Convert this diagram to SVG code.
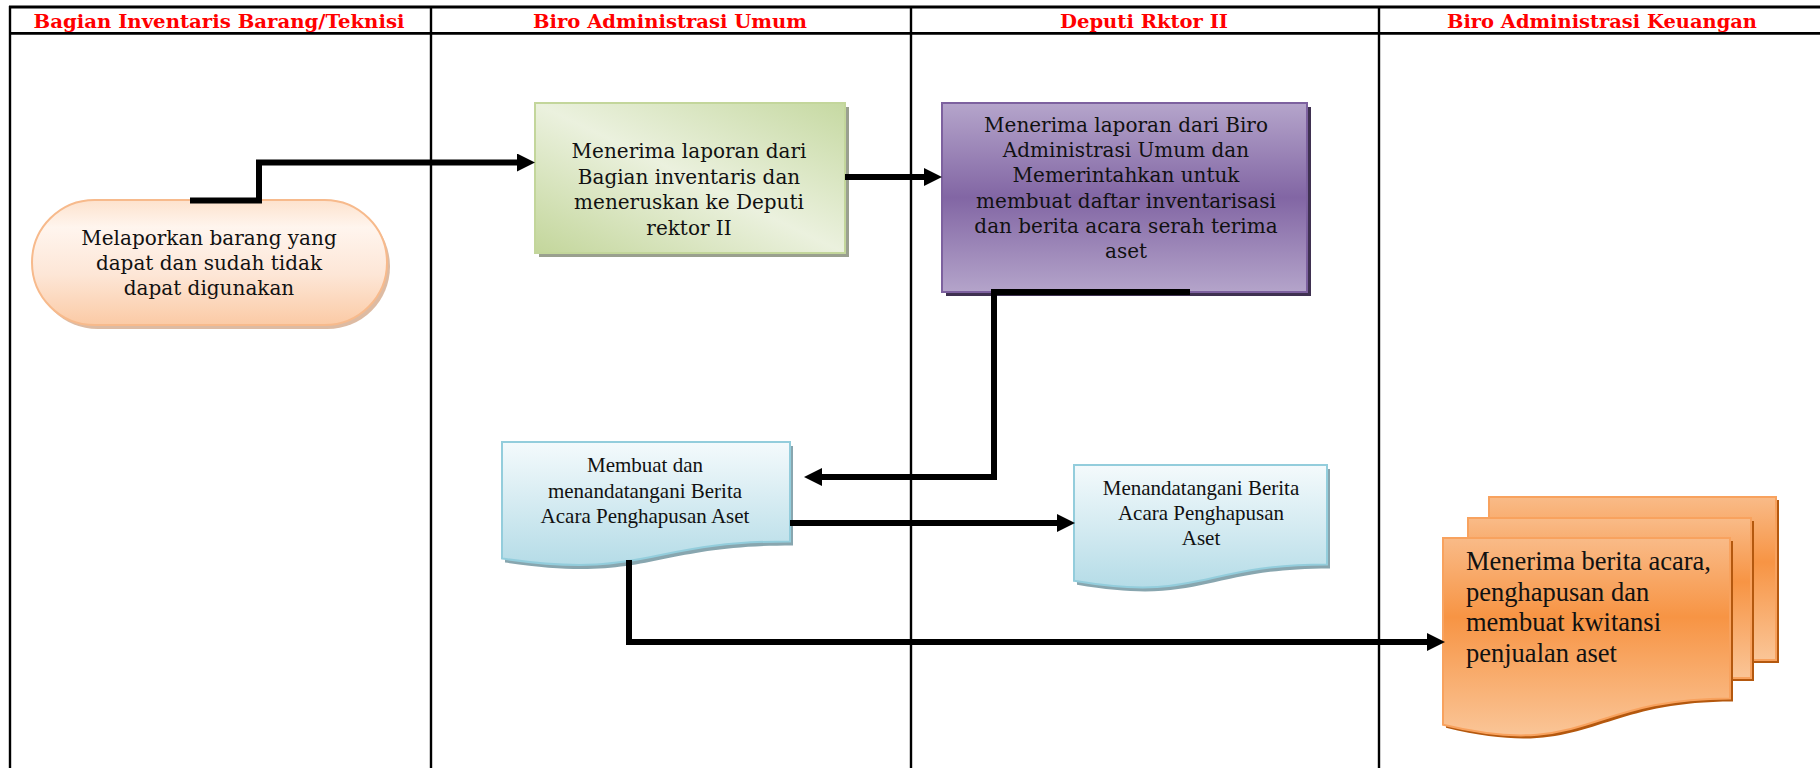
<svg xmlns="http://www.w3.org/2000/svg" width="1820" height="768" viewBox="0 0 1820 768">
  <style>
    .lane { stroke: #000; stroke-width: 2.4; fill: none; }
    .hline { stroke: #000; stroke-width: 2.8; fill: none; }
    .head { font-family: "DejaVu Serif", "Liberation Serif", serif; font-weight: bold; font-size: 19px; fill: #ff0000; text-anchor: middle; }
    .bk { font-family: "DejaVu Serif", "Liberation Serif", serif; font-size: 20px; fill: #111; text-anchor: middle; }
    .tm { font-family: "Liberation Serif", "Times New Roman", serif; font-size: 21px; fill: #111; text-anchor: middle; }
    .tm-big { font-family: "Liberation Serif", "Times New Roman", serif; font-size: 26.5px; fill: #111; }
    .conn { stroke: #000; stroke-width: 6; fill: none; stroke-linejoin: miter; stroke-linecap: butt; marker-end: url(#arrow); }
  </style>
  <defs>
    <linearGradient id="gPill" x1="0" y1="0" x2="0" y2="1">
      <stop offset="0" stop-color="#fde2cd"/>
      <stop offset="0.22" stop-color="#fff5ee"/>
      <stop offset="0.6" stop-color="#fde6d6"/>
      <stop offset="1" stop-color="#fbcaa5"/>
    </linearGradient>
    <linearGradient id="gGreen" x1="1" y1="0" x2="0" y2="1">
      <stop offset="0" stop-color="#c6d9a2"/>
      <stop offset="0.5" stop-color="#ebf1de"/>
      <stop offset="1" stop-color="#c3d69b"/>
    </linearGradient>
    <linearGradient id="gPurple" x1="0" y1="0" x2="0" y2="1">
      <stop offset="0" stop-color="#b5a5cb"/>
      <stop offset="0.5" stop-color="#8266a4"/>
      <stop offset="1" stop-color="#b4a4ca"/>
    </linearGradient>
    <linearGradient id="gBlue" x1="0" y1="0" x2="0" y2="1">
      <stop offset="0" stop-color="#f4fafc"/>
      <stop offset="1" stop-color="#b5dce7"/>
    </linearGradient>
    <linearGradient id="gOrange" x1="0" y1="0" x2="0" y2="1">
      <stop offset="0" stop-color="#f9bb88"/>
      <stop offset="0.4" stop-color="#f79444"/>
      <stop offset="1" stop-color="#fac597"/>
    </linearGradient>
    <marker id="arrow" viewBox="0 -9 18 18" refX="1" refY="0" markerWidth="18" markerHeight="18" markerUnits="userSpaceOnUse" orient="auto">
      <path d="M0,-9 L18,0 L0,9 Z" fill="#000"/>
    </marker>
  </defs>

  <rect x="0" y="0" width="1820" height="768" fill="#fff"/>

  <!-- swimlane frame -->
  <g id="lanes">
    <line class="hline" x1="9" y1="7" x2="1820" y2="7"/>
    <line class="hline" x1="9" y1="33.3" x2="1820" y2="33.3"/>
    <line class="lane" x1="10" y1="6" x2="10" y2="768"/>
    <line class="lane" x1="431" y1="7" x2="431" y2="768"/>
    <line class="lane" x1="911" y1="7" x2="911" y2="768"/>
    <line class="lane" x1="1379" y1="7" x2="1379" y2="768"/>
    <text class="head" x="219" y="28" textLength="371" lengthAdjust="spacingAndGlyphs">Bagian Inventaris Barang/Teknisi</text>
    <text class="head" x="670" y="28" textLength="274" lengthAdjust="spacingAndGlyphs">Biro Administrasi Umum</text>
    <text class="head" x="1144" y="28" textLength="168" lengthAdjust="spacingAndGlyphs">Deputi Rktor II</text>
    <text class="head" x="1602" y="28" textLength="310" lengthAdjust="spacingAndGlyphs">Biro Administrasi Keuangan</text>
  </g>

  <!-- start: report item -->
  <g id="node-lapor">
    <rect x="35" y="204" width="355" height="125" rx="62.5" fill="#d2a484" opacity="0.75"/>
    <rect x="32" y="200" width="355" height="125" rx="62.5" fill="url(#gPill)" stroke="#f7ba8c" stroke-width="2"/>
    <text class="bk" x="209" y="245">Melaporkan barang yang</text>
    <text class="bk" x="209" y="270">dapat dan sudah tidak</text>
    <text class="bk" x="209" y="295">dapat digunakan</text>
  </g>

  <!-- receive and forward -->
  <g id="node-terima">
    <rect x="539" y="107" width="310" height="150" fill="#9aa08f"/>
    <rect x="535" y="103" width="310" height="150" fill="url(#gGreen)" stroke="#c3d69b" stroke-width="2"/>
    <text class="bk" x="689" y="158">Menerima laporan dari</text>
    <text class="bk" x="689" y="183.5">Bagian inventaris dan</text>
    <text class="bk" x="689" y="209">meneruskan ke Deputi</text>
    <text class="bk" x="689" y="234.5">rektor II</text>
  </g>

  <!-- deputy instruction -->
  <g id="node-deputi">
    <rect x="946" y="107" width="365" height="189" fill="#3f3151"/>
    <rect x="942" y="103" width="365" height="189" fill="url(#gPurple)" stroke="#7d619f" stroke-width="2"/>
    <text class="bk" x="1126" y="132">Menerima laporan dari Biro</text>
    <text class="bk" x="1126" y="157.2">Administrasi Umum dan</text>
    <text class="bk" x="1126" y="182.4">Memerintahkan untuk</text>
    <text class="bk" x="1126" y="207.6">membuat daftar inventarisasi</text>
    <text class="bk" x="1126" y="232.8">dan berita acara serah terima</text>
    <text class="bk" x="1126" y="258">aset</text>
  </g>

  <!-- write-off minutes -->
  <g id="node-berita">
    <path d="M505,446 H793 V545.4 C649,545.4 649,583.9 505,562.5 Z" fill="#88a6af"/>
    <path d="M502,442 H790 V541.4 C646,541.4 646,579.9 502,558.5 Z" fill="url(#gBlue)" stroke="#93cddc" stroke-width="2"/>
    <text class="tm" x="645" y="472">Membuat dan</text>
    <text class="tm" x="645" y="497.5">menandatangani Berita</text>
    <text class="tm" x="645" y="523">Acara Penghapusan Aset</text>
  </g>

  <!-- signature -->
  <g id="node-tandatangan">
    <path d="M1077,469 H1330 V568.4 C1203.5,568.4 1203.5,606.3 1077,584.8 Z" fill="#88a6af"/>
    <path d="M1074,465 H1327 V564.4 C1200.5,564.4 1200.5,602.3 1074,580.8 Z" fill="url(#gBlue)" stroke="#93cddc" stroke-width="2"/>
    <text class="tm" x="1201" y="495">Menandatangani Berita</text>
    <text class="tm" x="1201" y="520">Acara Penghapusan</text>
    <text class="tm" x="1201" y="545">Aset</text>
  </g>

  <!-- finance: multi-document -->
  <g id="node-keuangan">
    <rect x="1492" y="500" width="287" height="163" fill="#b4580e"/>
    <rect x="1489" y="497" width="287" height="163" fill="url(#gOrange)" stroke="#f8a25e" stroke-width="2"/>
    <rect x="1471" y="521" width="283" height="160" fill="#b4580e"/>
    <rect x="1468" y="518" width="283" height="160" fill="url(#gOrange)" stroke="#f8a25e" stroke-width="2"/>
    <path d="M1446,541 H1733 V701.4 C1589.5,701.4 1589.5,762.4 1446,727.8 Z" fill="#b4580e"/>
    <path d="M1443,538 H1730 V698.4 C1586.5,698.4 1586.5,759.4 1443,724.8 Z" fill="url(#gOrange)" stroke="#f8a25e" stroke-width="2"/>
    <text class="tm-big" x="1466" y="570">Menerima berita acara,</text>
    <text class="tm-big" x="1466" y="600.5">penghapusan dan</text>
    <text class="tm-big" x="1466" y="631">membuat kwitansi</text>
    <text class="tm-big" x="1466" y="661.5">penjualan aset</text>
  </g>

  <!-- flow connectors -->
  <g id="connectors">
    <path class="conn" d="M190,200.5 H259 V162.5 H518"/>
    <path class="conn" d="M845,177 H925"/>
    <path class="conn" d="M1190,292 H994 V477 H821"/>
    <path class="conn" d="M790,523 H1058"/>
    <path class="conn" d="M629,560 V642 H1428"/>
  </g>
</svg>
